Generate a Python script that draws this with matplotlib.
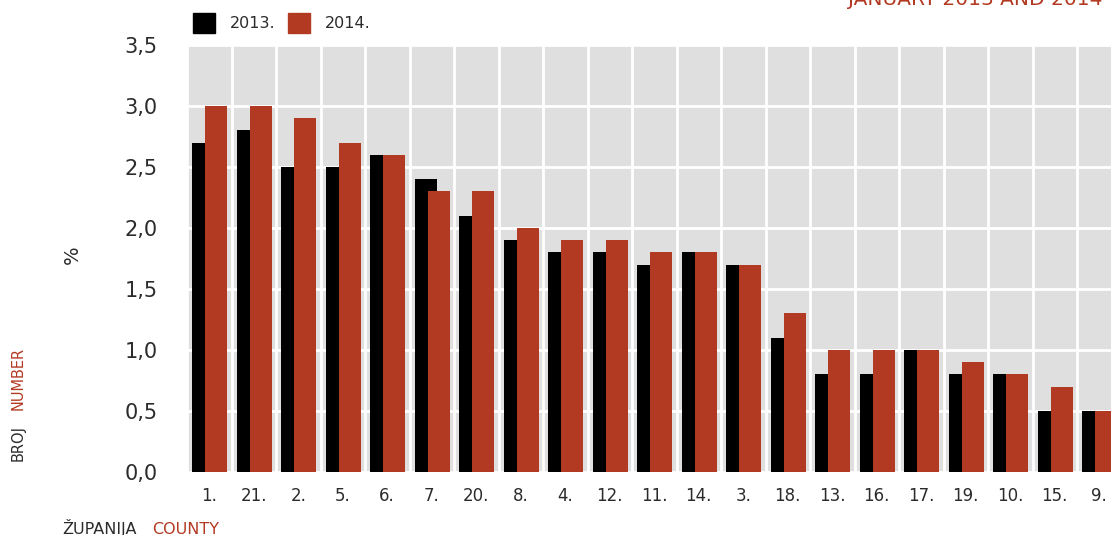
import numpy as np
import matplotlib
matplotlib.use("Agg")
import matplotlib.pyplot as plt

# data
counties = ["1.", "21.", "2.", "5.", "6.", "7.", "20.", "8.", "4.", "12.", "11.",
            "14.", "3.", "18.", "13.", "16.", "17.", "19.", "10.", "15.", "9."]
y2013 = [2.7, 2.8, 2.5, 2.5, 2.6, 2.4, 2.1, 1.9, 1.8, 1.8, 1.7,
         1.8, 1.7, 1.1, 0.8, 0.8, 1.0, 0.8, 0.8, 0.5, 0.5]
y2014 = [3.0, 3.0, 2.9, 2.7, 2.6, 2.3, 2.3, 2.0, 1.9, 1.9, 1.8,
         1.8, 1.7, 1.3, 1.0, 1.0, 1.0, 0.9, 0.8, 0.7, 0.5]
yticks = [0.0, 0.5, 1.0, 1.5, 2.0, 2.5, 3.0, 3.5]

RED = "#b33a22"
GREY = "#dedfde"
TXT = "#2b2b2b"

W, H = 1111, 535
fig = plt.figure(figsize=(W / 100, H / 100), dpi=100)

def fx(px):
    return px / W

def fy(py):
    return 1 - py / H

# axes is wider than the figure on purpose: the reference is cropped on the right
ax = fig.add_axes([fx(187), fy(472), 934.5 / W, (472 - 45) / H])
ax.set_facecolor(GREY)

x = np.arange(len(counties))
bw = 0.494
ax.bar(x - 0.14, y2013, width=bw, color="black", zorder=3)
ax.bar(x + 0.152, y2014, width=bw, color=RED, zorder=4)

ax.set_xlim(-0.5, len(counties) - 0.5)
ax.set_ylim(0, 3.5)
ax.set_xticks(x)
ax.set_xticklabels(counties, fontsize=12, color=TXT)
ax.set_xticks(np.arange(len(counties) + 1) - 0.5, minor=True)
ax.set_yticks(yticks)
ax.set_yticklabels([f"{v:.1f}".replace(".", ",") for v in yticks], fontsize=15, color=TXT)
ax.tick_params(axis="x", which="both", length=0, pad=11)
ax.tick_params(axis="y", length=0, pad=21)

ax.grid(True, axis="y", color="white", linewidth=2, zorder=1)
ax.grid(True, axis="x", which="minor", color="white", linewidth=2, zorder=1)
ax.grid(False, axis="x", which="major")
ax.set_axisbelow(True)
for s in ax.spines.values():
    s.set_visible(False)

ax.set_ylabel("%", fontsize=14, color=TXT)
ax.yaxis.set_label_coords(-0.112, 0.508)

# legend
fig.patches.append(plt.Rectangle((fx(193), fy(33)), 22 / W, 20 / H, color="black",
                                 transform=fig.transFigure))
fig.text(fx(230), fy(23), "2013.", fontsize=11.5, color=TXT, va="center")
fig.patches.append(plt.Rectangle((fx(288), fy(33)), 22 / W, 20 / H, color=RED,
                                 transform=fig.transFigure))
fig.text(fx(325), fy(23), "2014.", fontsize=11.5, color=TXT, va="center")

# title, cut off at the top in the reference
fig.text(fx(848), fy(5), "JANUARY 2013 AND 2014", fontsize=14.5, color=RED,
         va="baseline", ha="left")

# side and bottom captions
fig.text(fx(18), fy(461), "BROJ", fontsize=10.5, color=TXT, rotation=90,
         rotation_mode="anchor", ha="left", va="center")
fig.text(fx(18), fy(410), "NUMBER", fontsize=10.5, color=RED, rotation=90,
         rotation_mode="anchor", ha="left", va="center")
fig.text(fx(62), fy(534), "ŽUPANIJA", fontsize=11.5, color=TXT, va="baseline")
fig.text(fx(152), fy(534), "COUNTY", fontsize=11.5, color=RED, va="baseline")

fig.savefig("out.png", dpi=100)
